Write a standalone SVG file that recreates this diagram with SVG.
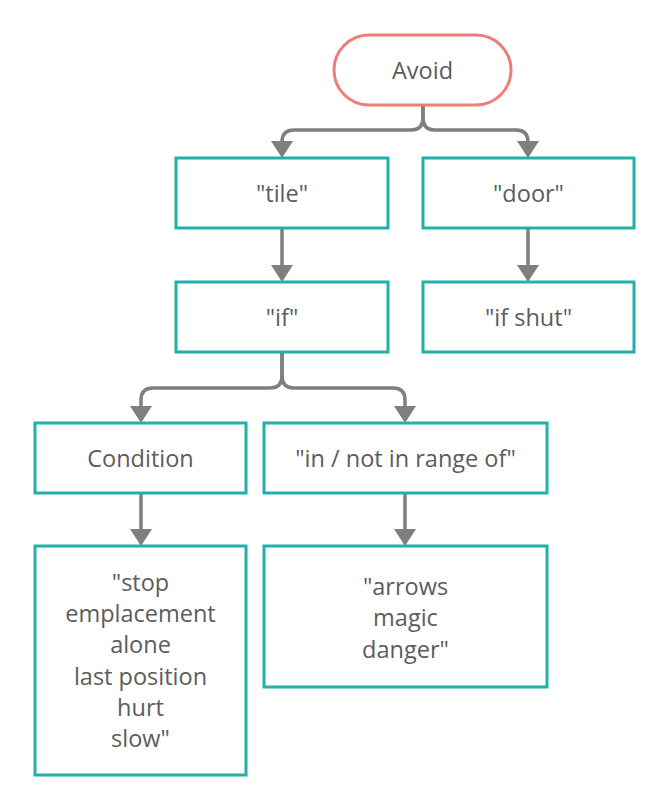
<svg xmlns="http://www.w3.org/2000/svg" width="670" height="811" viewBox="0 0 670 811">
<style>
.box{fill:#fff;stroke:#22b0aa;stroke-width:3}
.pill{fill:#fff;stroke:#f47a77;stroke-width:3}
.t{font-family:"Open Sans","Liberation Sans",sans-serif;font-size:23.5px;fill:#5c5c5c;text-anchor:middle}
.c{fill:none;stroke:#7f7f7f;stroke-width:3.5}
.h{fill:#7f7f7f}
</style>
<rect width="670" height="811" fill="#fff"/>
<g id="connectors">
<path class="c" d="M423,105 V118 Q423,130 411,130 H294 Q282,130 282,142"/>
<path class="h" d="M271,141 L293,141 L282,158 Z"/>
<path class="c" d="M423,105 V118 Q423,130 435,130 H516 Q528,130 528,142"/>
<path class="h" d="M517,141 L539,141 L528,158 Z"/>
<path class="c" d="M282,229 V266"/>
<path class="h" d="M271,265 L293,265 L282,282 Z"/>
<path class="c" d="M528,229 V266"/>
<path class="h" d="M517,265 L539,265 L528,282 Z"/>
<path class="c" d="M282,352 V376 Q282,388 270,388 H153 Q141,388 141,400 V407"/>
<path class="h" d="M130,406 L152,406 L141,423 Z"/>
<path class="c" d="M282,352 V376 Q282,388 294,388 H393 Q405,388 405,400 V407"/>
<path class="h" d="M394,406 L416,406 L405,423 Z"/>
<path class="c" d="M141,493 V530"/>
<path class="h" d="M130,529 L152,529 L141,546 Z"/>
<path class="c" d="M405,493 V530"/>
<path class="h" d="M394,529 L416,529 L405,546 Z"/>
</g>
<g id="avoid">
<rect class="pill" x="334" y="35" width="177" height="70" rx="35"/>
<text class="t" x="422.5" y="79">Avoid</text>
</g>
<g id="tile">
<rect class="box" x="176" y="158" width="212" height="70"/>
<text class="t" x="282" y="202">"tile"</text>
</g>
<g id="door">
<rect class="box" x="423" y="158" width="211" height="70"/>
<text class="t" x="528.5" y="202">"door"</text>
</g>
<g id="if">
<rect class="box" x="176" y="282" width="212" height="70"/>
<text class="t" x="282" y="326">"if"</text>
</g>
<g id="ifshut">
<rect class="box" x="423" y="282" width="211" height="70"/>
<text class="t" x="528.5" y="326">"if shut"</text>
</g>
<g id="condition">
<rect class="box" x="35" y="423" width="211" height="70"/>
<text class="t" x="140.5" y="467">Condition</text>
</g>
<g id="range">
<rect class="box" x="264" y="423" width="283" height="70"/>
<text class="t" x="405.5" y="467">"in / not in range of"</text>
</g>
<g id="stop">
<rect class="box" x="35" y="546" width="211" height="229"/>
<text class="t" x="140.5" y="591">"stop</text>
<text class="t" x="140.5" y="622">emplacement</text>
<text class="t" x="140.5" y="653">alone</text>
<text class="t" x="140.5" y="685">last position</text>
<text class="t" x="140.5" y="716">hurt</text>
<text class="t" x="140.5" y="747">slow"</text>
</g>
<g id="arrows">
<rect class="box" x="264" y="546" width="283" height="141"/>
<text class="t" x="405.5" y="595">"arrows</text>
<text class="t" x="405.5" y="626">magic</text>
<text class="t" x="405.5" y="658">danger"</text>
</g>
</svg>
